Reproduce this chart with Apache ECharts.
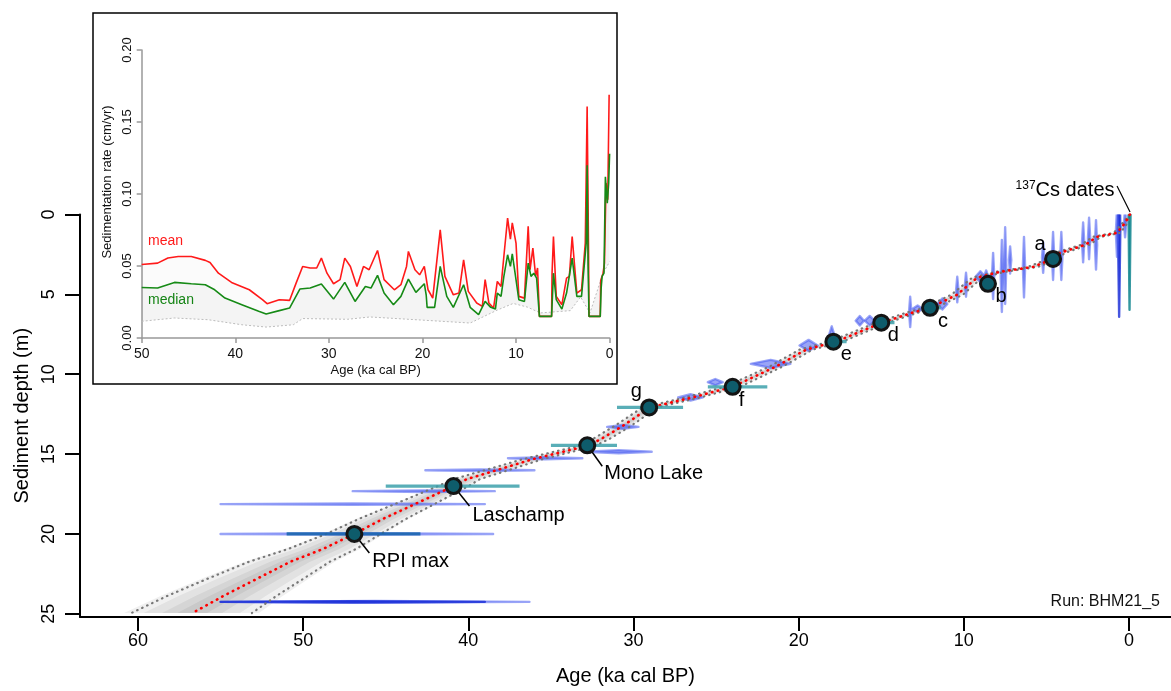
<!DOCTYPE html>
<html><head><meta charset="utf-8">
<script src="https://cdn.jsdelivr.net/npm/echarts@6/dist/echarts.min.js"></script>
<style>html,body{margin:0;padding:0;background:#fff}#c{width:1171px;height:691px}</style>
</head><body><div id="c"></div>
<script>
// ---------- DATA ----------
const xTickLabels = [0, 10, 20, 30, 40, 50, 60];
const yTickLabels = [0, 5, 10, 15, 20, 25];

// age-depth model (depth in m, ages in ka cal BP)
const modelDepth = [0, 0.53, 1.15, 1.40, 1.90, 2.40, 2.78, 3.28, 3.59, 3.96, 5.02, 5.84, 6.15, 6.77, 7.96, 8.46, 9.52, 10.77, 11.45, 12.08, 13.27, 14.08, 14.51, 15.32, 15.95, 16.57, 17.01, 18.26, 19.07, 20.00, 20.94, 21.75, 22.81, 23.87, 24.95];
const modelMean  = [-0.05, 0.24, 0.73, 1.94, 2.66, 4.18, 4.60, 5.81, 7.81, 9.20, 10.41, 12.05, 13.14, 14.95, 17.74, 19.55, 21.37, 23.97, 26.40, 29.00, 30.70, 32.00, 32.90, 36.10, 38.10, 40.10, 40.90, 43.50, 45.20, 46.90, 48.80, 50.80, 52.80, 54.80, 56.70];
const modelYoung = [-0.08, 0.09, 0.53, 1.69, 2.41, 3.88, 4.30, 5.51, 7.51, 8.90, 10.06, 11.70, 12.79, 14.60, 17.34, 19.15, 20.97, 23.52, 25.95, 28.55, 30.20, 31.50, 32.40, 35.50, 37.40, 39.30, 40.00, 42.30, 43.80, 45.30, 46.80, 48.40, 50.00, 51.60, 53.10];
const modelOld   = [-0.02, 0.39, 0.93, 2.19, 2.91, 4.48, 4.90, 6.11, 8.11, 9.50, 10.76, 12.40, 13.49, 15.30, 18.14, 19.95, 21.77, 24.42, 26.85, 29.45, 31.20, 32.50, 33.40, 36.70, 38.80, 40.90, 41.85, 44.75, 46.65, 48.60, 50.90, 53.30, 55.80, 58.20, 60.40];

// dated levels: depth, age range, spread of the probability shape (m), type
const dateDepth  = [0, 0.53, 1.0, 1.15, 1.9, 1.5, 1.75, 2.6, 2.6, 2.7, 3.3, 2.85, 3.2, 3.85, 3.85, 4.1, 3.9, 4.4, 4.7, 5.6, 5.8, 5.9, 6.1, 6.65, 6.65, 7.5, 8.2, 9.35, 10.5, 11.45, 13.3, 14.85, 15.26, 16.01, 17.32, 18.13, 20.0, 24.25, 24.25];
const dateAgeMin = [-0.09, 0.17, 0.53, 0.66, 1.93, 2.35, 2.71, 4.03, 4.53, 5.13, 6.29, 7.13, 7.43, 7.63, 8.16, 8.45, 8.70, 9.80, 10.33, 11.0, 11.65, 12.5, 13.18, 15.4, 16.05, 17.85, 18.85, 20.5, 24.6, 25.8, 29.7, 28.9, 33.1, 36.0, 38.4, 39.0, 38.5, 36.3, 39.0];
const dateAgeMax = [0.03, 0.31, 0.67, 0.80, 2.07, 2.49, 2.85, 4.17, 4.67, 5.27, 6.43, 7.27, 7.57, 7.77, 8.30, 8.85, 9.30, 9.94, 10.47, 11.6, 12.45, 13.1, 13.32, 16.0, 16.55, 18.15, 19.95, 22.9, 25.5, 27.3, 31.6, 32.9, 37.6, 42.6, 47.0, 55.0, 55.0, 55.0, 55.0];
const dateSpread = [5.96, 0.9, 5.4, 1.5, 1.55, 1.3, 1.25, 1.5, 1.5, 0.95, 1.9, 0.85, 2.4, 2.25, 1.45, 0.6, 0.35, 0.75, 0.8, 0.35, 0.4, 0.2, 0.95, 0.3, 0.3, 0.5, 0.35, 0.25, 0.2, 0.2, 0.12, 0.1, 0.06, 0.05, 0.05, 0.04, 0.04, 0.05, 0.04];
const dateType   = ['Cs', 'C14', 'C14dark', 'C14', 'C14', 'C14', 'C14', 'C14', 'C14', 'C14', 'C14', 'C14', 'C14', 'C14', 'C14', 'C14', 'C14', 'C14', 'C14', 'C14', 'C14', 'C14', 'C14', 'C14', 'C14', 'C14', 'C14', 'C14', 'C14', 'C14', 'C14', 'C14', 'C14', 'C14', 'C14', 'C14', 'C14', 'C14', 'C14dark'];

// tie points
const tieLabel  = ['a', 'b', 'c', 'd', 'e', 'f', 'g', 'Mono Lake', 'Laschamp', 'RPI max'];
const tieAge    = [4.6, 8.54, 12.05, 15.0, 17.9, 24.0, 29.05, 32.8, 40.9, 46.9];
const tieDepth  = [2.78, 4.34, 5.84, 6.77, 7.96, 10.79, 12.08, 14.45, 17.0, 20.0];
const tieAgeMin = [4.5, 8.3, 11.4, 14.2, 17.1, 21.9, 27.0, 31.0, 36.9, 42.9];
const tieAgeMax = [4.7, 8.8, 12.4, 15.5, 18.4, 25.5, 31.0, 35.0, 45.0, 51.0];

// inset: sedimentation rate (cm/yr) vs age (ka cal BP)
const insetMean = [[50,0.051],[48.3,0.052],[47.2,0.0555],[46.1,0.0566],[44.7,0.0566],[43.2,0.0539],[42.7,0.0525],[41.8,0.045],[40.4,0.0386],[38.5,0.0335],[37.1,0.0266],[36.6,0.0238],[35.3,0.0266],[34.2,0.0261],[33.5,0.0381],[32.8,0.0497],[32.0,0.0486],[31.3,0.0486],[30.8,0.0555],[30.2,0.045],[29.5,0.0377],[28.8,0.0405],[28.3,0.0555],[27.7,0.0497],[27.0,0.0358],[26.3,0.0497],[25.7,0.0474],[24.8,0.0608],[24.1,0.0405],[23.0,0.0335],[22.3,0.037],[21.7,0.0497],[21.5,0.0601],[20.8,0.0474],[20.3,0.0439],[19.8,0.0497],[19.4,0.0335],[18.9,0.0277],[18.1,0.0751],[17.6,0.0428],[16.7,0.030],[16.1,0.0312],[15.6,0.0543],[15.1,0.0324],[14.2,0.0243],[13.6,0.022],[13.3,0.0405],[12.9,0.0243],[12.4,0.0208],[12.0,0.0393],[11.6,0.0358],[11.3,0.0566],[10.9,0.0832],[10.6,0.0687],[10.4,0.080],[10.0,0.0659],[9.7,0.0289],[9.1,0.0277],[8.7,0.0775],[8.5,0.0474],[8.2,0.0624],[7.9,0.0428],[7.7,0.0486],[7.55,0.048],[7.5,0.015],[6.2,0.015],[6.15,0.045],[6.0,0.0705],[5.7,0.0289],[5.1,0.0231],[4.6,0.0416],[4.3,0.0428],[4.0,0.0705],[3.5,0.0312],[3.0,0.0335],[2.6,0.0659],[2.4,0.1607],[2.25,0.06],[2.2,0.015],[1.0,0.015],[0.95,0.04],[0.7,0.045],[0.55,0.052],[0.38,0.1075],[0.2,0.096],[0.05,0.169]];
const insetMedian = [[50,0.0351],[48.3,0.0347],[46.5,0.0386],[44.7,0.0377],[43.2,0.037],[42.2,0.0335],[41.1,0.0277],[39.3,0.0231],[37.5,0.0185],[36.7,0.0166],[35.3,0.019],[34.2,0.0208],[33.1,0.034],[32.0,0.0347],[30.8,0.0375],[29.5,0.027],[28.3,0.0386],[27.2,0.0254],[26.1,0.0358],[25.5,0.0347],[24.8,0.0435],[24.1,0.0312],[23.1,0.0231],[22.3,0.0289],[21.5,0.0409],[20.7,0.0317],[19.8,0.0377],[19.6,0.030],[19.5,0.0213],[18.7,0.0213],[18.1,0.0497],[17.4,0.0289],[16.7,0.0213],[15.6,0.037],[14.9,0.0213],[14.0,0.0162],[13.3,0.0254],[12.7,0.0213],[12.2,0.0201],[12.0,0.0312],[11.6,0.0289],[11.3,0.0428],[10.9,0.0578],[10.6,0.0497],[10.4,0.0585],[10.1,0.045],[9.7,0.0266],[9.1,0.0254],[8.7,0.052],[8.4,0.0428],[8.1,0.045],[7.8,0.0416],[7.6,0.0428],[7.5,0.015],[6.2,0.015],[6.1,0.03],[6.0,0.045],[5.7,0.0266],[5.1,0.0201],[4.6,0.0312],[4.0,0.0555],[3.5,0.0289],[3.0,0.0289],[2.5,0.0659],[2.4,0.12],[2.3,0.05],[2.2,0.015],[1.0,0.015],[0.9,0.035],[0.8,0.0428],[0.6,0.045],[0.45,0.112],[0.25,0.0936],[0.1,0.1075],[0,0.128]];
const insetLow = [[50,0.0116],[46.5,0.0139],[42.9,0.0127],[39.3,0.0092],[36.7,0.0076],[33.8,0.0092],[32.8,0.0135],[28,0.013],[25.6,0.0146],[20.2,0.0125],[14.9,0.0104],[12,0.0194],[10.3,0.024],[8.8,0.0215],[7.4,0.0174],[4.2,0.019],[3.1,0.0285],[2.1,0.0174],[0.7,0.045],[0,0.053]];

// ---------- CHART ----------
const FONT = '"Liberation Sans", Arial, sans-serif';
const chart = echarts.init(document.getElementById('c'), null, {renderer: 'canvas'});

const tieLabelLayout = {
  'a': {dx: -13, dy: -14, align: 'center'},
  'b': {dx: 13, dy: 13, align: 'center'},
  'c': {dx: 13, dy: 14, align: 'center'},
  'd': {dx: 12, dy: 13, align: 'center'},
  'e': {dx: 13, dy: 13, align: 'center'},
  'f': {dx: 9, dy: 14, align: 'center'},
  'g': {dx: -13, dy: -16, align: 'center'},
  'Mono Lake': {dx: 17, dy: 28, align: 'left', leader: [15, 21]},
  'Laschamp': {dx: 19, dy: 29, align: 'left', leader: [16, 20]},
  'RPI max': {dx: 18, dy: 28, align: 'left', leader: [15, 19]}
};

function dateColor(t) {
  if (t === 'Cs') return 'rgba(20,135,145,0.85)';
  if (t === 'C14dark') return 'rgba(25,45,215,0.8)';
  return 'rgba(70,90,240,0.55)';
}

const option = {
  animation: false,
  textStyle: {fontFamily: FONT},
  grid: [
    {left: 80, right: 0, top: 214.5, bottom: 72.7},
    {left: 141.7, width: 467.9, top: 50, height: 288}
  ],
  xAxis: [
    {gridIndex: 0, type: 'value', inverse: true, min: -2.54, max: 63.51, position: 'bottom',
     axisLine: {onZero: false, lineStyle: {color: '#000', width: 2}},
     axisTick: {customValues: xTickLabels, length: 14, lineStyle: {color: '#000', width: 2}},
     axisLabel: {customValues: xTickLabels, fontSize: 18, color: '#000', margin: 15, fontFamily: FONT},
     splitLine: {show: false},
     name: 'Age (ka cal BP)', nameLocation: 'middle', nameGap: 49,
     nameTextStyle: {fontSize: 20, color: '#000', fontFamily: FONT}},
    {gridIndex: 1, type: 'value', inverse: true, min: 0, max: 50, interval: 10, position: 'bottom',
     axisLine: {onZero: false, lineStyle: {color: '#999', width: 1.5}},
     axisTick: {length: 5, lineStyle: {color: '#999', width: 1.5}},
     axisLabel: {fontSize: 14, color: '#111', margin: 9, fontFamily: FONT},
     splitLine: {show: false},
     name: 'Age (ka cal BP)', nameLocation: 'middle', nameGap: 26,
     nameTextStyle: {fontSize: 13, color: '#111', fontFamily: FONT}}
  ],
  yAxis: [
    {gridIndex: 0, type: 'value', inverse: true, min: 0, max: 25.2, position: 'left',
     axisLine: {onZero: false, lineStyle: {color: '#000', width: 2}},
     axisTick: {customValues: yTickLabels, length: 15, lineStyle: {color: '#000', width: 2}},
     axisLabel: {customValues: yTickLabels, fontSize: 18, color: '#000', rotate: 90, margin: 22, fontFamily: FONT},
     splitLine: {show: false},
     name: 'Sediment depth (m)', nameLocation: 'middle', nameGap: 48,
     nameTextStyle: {fontSize: 20, color: '#000', fontFamily: FONT}},
    {gridIndex: 1, type: 'value', min: 0, max: 0.2, interval: 0.05, position: 'left',
     axisLine: {show: true, onZero: false, lineStyle: {color: '#999', width: 1.5}},
     axisTick: {show: true, length: 5, lineStyle: {color: '#999', width: 1.5}},
     axisLabel: {fontSize: 13, color: '#111', rotate: 90, margin: 8, fontFamily: FONT,
                 formatter: v => v.toFixed(2)},
     splitLine: {show: false},
     name: 'Sedimentation rate (cm/yr)', nameLocation: 'middle', nameGap: 28,
     nameTextStyle: {fontSize: 13, color: '#111', fontFamily: FONT, padding: [0, 0, 0, 24]}}
  ],
  graphic: [
    {type: 'rect', silent: true, z: 0, shape: {x: 93, y: 13, width: 524, height: 371},
     style: {fill: 'none', stroke: '#000', lineWidth: 1.5}},
    {type: 'text', silent: true, left: 148, top: 234,
     style: {text: 'mean', fill: '#ff1a1a', font: '14px ' + FONT}},
    {type: 'text', silent: true, left: 148, top: 293,
     style: {text: 'median', fill: '#168a16', font: '14px ' + FONT}},
    {type: 'text', silent: true, right: 11, top: 594,
     style: {text: 'Run: BHM21_5', fill: '#111', font: '16px ' + FONT}}
  ],
  series: [
    // shaded model band
    {type: 'custom', xAxisIndex: 0, yAxisIndex: 0, clip: true, z: 1, silent: true,
     data: [[modelMean[0], modelDepth[0]]],
     renderItem: function (params, api) {
       const layers = [1.12, 0.8, 0.5, 0.25];
       const children = layers.map(function (f) {
         const pts = [];
         for (let i = 0; i < modelDepth.length; i++) {
           const m = modelMean[i];
           pts.push(api.coord([m + f * (modelOld[i] - m), modelDepth[i]]));
         }
         for (let i = modelDepth.length - 1; i >= 0; i--) {
           const m = modelMean[i];
           pts.push(api.coord([m + f * (modelYoung[i] - m), modelDepth[i]]));
         }
         return {type: 'polygon', shape: {points: pts}, style: {fill: 'rgba(0,0,0,0.06)'}};
       });
       return {type: 'group', children: children};
     }},
    // dated levels (probability shapes)
    {type: 'custom', xAxisIndex: 0, yAxisIndex: 0, clip: true, z: 2, silent: true,
     data: dateDepth.map((d, i) => [(dateAgeMin[i] + dateAgeMax[i]) / 2, d]),
     renderItem: function (params, api) {
       const i = params.dataIndex;
       const d = dateDepth[i], a0 = dateAgeMin[i], a1 = dateAgeMax[i], h = dateSpread[i];
       const am = (a0 + a1) / 2;
       const pts = [api.coord([a0, d]), api.coord([am, d - h]), api.coord([a1, d]), api.coord([am, d + h])];
       const col = dateColor(dateType[i]);
       return {type: 'polygon', shape: {points: pts},
               style: {fill: col, stroke: col, lineWidth: 2.4, lineJoin: 'round'}};
     }},
    // 95% bounds
    {type: 'line', xAxisIndex: 0, yAxisIndex: 0, z: 3, showSymbol: false, silent: true,
     data: modelDepth.map((d, i) => [modelOld[i], d]),
     lineStyle: {color: '#777', width: 2.2, type: [0.5, 5], cap: 'round'}},
    {type: 'line', xAxisIndex: 0, yAxisIndex: 0, z: 3, showSymbol: false, silent: true,
     data: modelDepth.map((d, i) => [modelYoung[i], d]),
     lineStyle: {color: '#777', width: 2.2, type: [0.5, 5], cap: 'round'}},
    // mean
    {type: 'line', xAxisIndex: 0, yAxisIndex: 0, z: 4, showSymbol: false, silent: true,
     data: modelDepth.map((d, i) => [modelMean[i], d]),
     lineStyle: {color: '#ff0000', width: 2.6, type: [0.5, 5.5], cap: 'round'}},
    // tie point error bars
    {type: 'custom', xAxisIndex: 0, yAxisIndex: 0, clip: true, z: 5, silent: true,
     data: tieAge.map((a, i) => [a, tieDepth[i]]),
     renderItem: function (params, api) {
       const i = params.dataIndex;
       const p0 = api.coord([tieAgeMin[i], tieDepth[i]]);
       const p1 = api.coord([tieAgeMax[i], tieDepth[i]]);
       const col = tieLabel[i] === 'RPI max' ? 'rgba(20,100,170,0.85)' : 'rgba(60,160,170,0.85)';
       return {type: 'line', shape: {x1: p0[0], y1: p0[1], x2: p1[0], y2: p1[1]},
               style: {stroke: col, lineWidth: 3.2}};
     }},
    // tie points with labels
    {type: 'custom', xAxisIndex: 0, yAxisIndex: 0, clip: false, z: 6, silent: true,
     data: tieAge.map((a, i) => [a, tieDepth[i]]),
     renderItem: function (params, api) {
       const i = params.dataIndex;
       const p = api.coord([api.value(0), api.value(1)]);
       const lay = tieLabelLayout[tieLabel[i]];
       const children = [];
       if (lay.leader) {
         children.push({type: 'line', shape: {x1: p[0], y1: p[1], x2: p[0] + lay.leader[0], y2: p[1] + lay.leader[1]},
                        style: {stroke: '#000', lineWidth: 1.5}});
       }
       children.push({type: 'circle', shape: {cx: p[0], cy: p[1], r: 7.5},
                      style: {fill: '#0e5c6b', stroke: '#141414', lineWidth: 3}});
       children.push({type: 'text', x: p[0] + lay.dx, y: p[1] + lay.dy,
                      style: {text: tieLabel[i], fill: '#000', font: '20px ' + FONT,
                              align: lay.align, verticalAlign: 'middle'}});
       return {type: 'group', children: children};
     }},
    // 137Cs annotation
    {type: 'custom', xAxisIndex: 0, yAxisIndex: 0, clip: false, z: 6, silent: true,
     data: [[(dateAgeMin[0] + dateAgeMax[0]) / 2, dateDepth[0]]],
     renderItem: function (params, api) {
       const p = api.coord([api.value(0), api.value(1)]);
       return {type: 'group', children: [
         {type: 'line', shape: {x1: p[0] - 12.5, y1: p[1] - 28.5, x2: p[0] + 0.5, y2: p[1] - 2.5},
          style: {stroke: '#000', lineWidth: 1.2}},
         {type: 'text', x: p[0] - 15, y: p[1] - 24.5,
          style: {text: '{s|137}{n|Cs dates}', align: 'right', verticalAlign: 'middle', fill: '#000',
                  rich: {s: {fontSize: 12, fontFamily: FONT, fill: '#000', verticalAlign: 'top', padding: [0, 0, 9, 0]},
                         n: {fontSize: 20, fontFamily: FONT, fill: '#000'}}}}
       ]};
     }},
    // ---- inset ----
    {type: 'custom', xAxisIndex: 1, yAxisIndex: 1, clip: true, z: 1, silent: true,
     data: [[insetLow[0][0], insetLow[0][1]]],
     renderItem: function (params, api) {
       const a = [], b = [];
       insetLow.forEach(p => a.push(api.coord(p)));
       for (let i = insetMedian.length - 1; i >= 0; i--) a.push(api.coord(insetMedian[i]));
       insetMedian.forEach(p => b.push(api.coord(p)));
       for (let i = insetMean.length - 1; i >= 0; i--) b.push(api.coord(insetMean[i]));
       return {type: 'group', children: [
         {type: 'polygon', shape: {points: a}, style: {fill: 'rgba(0,0,0,0.045)'}},
         {type: 'polygon', shape: {points: b}, style: {fill: 'rgba(0,0,0,0.015)'}}
       ]};
     }},
    {type: 'line', xAxisIndex: 1, yAxisIndex: 1, z: 2, showSymbol: false, silent: true,
     data: insetLow, lineStyle: {color: '#bbb', width: 1, type: [2, 2]}},
    {type: 'line', xAxisIndex: 1, yAxisIndex: 1, z: 3, showSymbol: false, silent: true,
     data: insetMean, lineStyle: {color: '#ff1a1a', width: 1.6}},
    {type: 'line', xAxisIndex: 1, yAxisIndex: 1, z: 4, showSymbol: false, silent: true,
     data: insetMedian, lineStyle: {color: '#168a16', width: 1.6}}
  ]
};
chart.setOption(option);
</script>
</body></html>
